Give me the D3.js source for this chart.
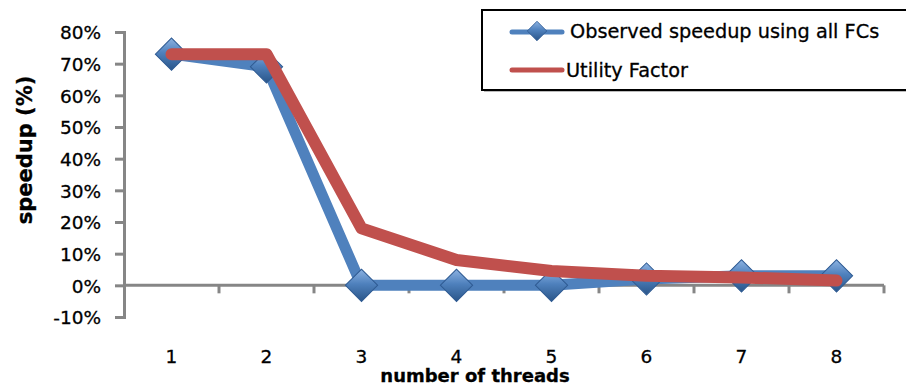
<!DOCTYPE html>
<html>
<head>
<meta charset="utf-8">
<script src="https://cdn.jsdelivr.net/npm/d3@7"></script>
<style>
  html, body { margin: 0; padding: 0; background: #fff; }
  svg { display: block; font-family: "DejaVu Sans", sans-serif; }
  .lbl { fill: #000; stroke: #000; stroke-width: 0.3px; }
</style>
</head>
<body>
<svg id="chart" width="906" height="385"></svg>
<script>
// Thread counts and speedup values (fractions)
const threads = ["1", "2", "3", "4", "5", "6", "7", "8"];
const observedSpeedup = [0.73, 0.69, 0.00, 0.00, 0.00, 0.02, 0.03, 0.03];
const utilityFactor   = [0.73, 0.73, 0.18, 0.08, 0.045, 0.03, 0.025, 0.015];
const yTicks = [-0.1, 0, 0.1, 0.2, 0.3, 0.4, 0.5, 0.6, 0.7, 0.8];
const seriesNames = ["Observed speedup using all FCs", "Utility Factor"];

const svg = d3.select("#chart");
const blue = "#4F81BD", red = "#C0504D", axisGrey = "#868686";

const x = d3.scaleBand().domain(threads).range([124, 884]);
const y = d3.scaleLinear().domain([-0.1, 0.8]).range([317, 32]);
const cx = d => x(d) + x.bandwidth() / 2;
const pct = v => d3.format(".0%")(v).replace("\u2212", "-");

// Gradient for the bevelled diamond markers
const defs = svg.append("defs");
const g = defs.append("linearGradient").attr("id", "diamondFill")
  .attr("x1", "0").attr("y1", "0").attr("x2", "1").attr("y2", "1");
g.append("stop").attr("offset", "0%").attr("stop-color", "#8DB3E2");
g.append("stop").attr("offset", "45%").attr("stop-color", "#4F81BD");
g.append("stop").attr("offset", "100%").attr("stop-color", "#2A5589");

// Y axis
const yAxis = d3.axisLeft(y).tickValues(yTicks).tickFormat(pct).tickSize(9).tickPadding(14);
const ya = svg.append("g").attr("transform", "translate(124,0)").call(yAxis);
ya.select(".domain").attr("stroke", axisGrey).attr("stroke-width", 3);
ya.selectAll(".tick line").attr("stroke", axisGrey).attr("stroke-width", 3);
ya.selectAll(".tick text").attr("class", "lbl").attr("font-size", 18.5)
  .attr("font-family", "DejaVu Sans, sans-serif").attr("dy", "0.36em");

// X axis along the zero line with ticks at category boundaries
const xa = svg.append("g").attr("transform", `translate(0,${y(0)})`);
xa.append("line").attr("x1", 124).attr("x2", 884).attr("stroke", axisGrey).attr("stroke-width", 3);
const bounds = threads.map(t => x(t) + x.bandwidth());
xa.selectAll("line.tk").data(bounds).join("line").attr("class", "tk")
  .attr("x1", d => d).attr("x2", d => d).attr("y1", 0).attr("y2", 8)
  .attr("stroke", axisGrey).attr("stroke-width", 3);
svg.append("g").selectAll("text").data(threads).join("text")
  .attr("class", "lbl")
  .attr("x", d => cx(d)).attr("y", 363).attr("text-anchor", "middle")
  .attr("font-size", 18.5).text(d => d);

// Axis titles
svg.append("text").attr("class", "lbl").attr("x", 475).attr("y", 382).attr("text-anchor", "middle")
  .attr("font-size", 18).attr("font-weight", "bold").text("number of threads");
svg.append("text").attr("class", "lbl").attr("transform", "translate(32,150) rotate(-90)").attr("text-anchor", "middle")
  .attr("font-size", 21).attr("font-weight", "bold").text("speedup (%)");

// Series lines
const line = d3.line().x((d, i) => cx(threads[i])).y(d => y(d));
svg.append("path").datum(observedSpeedup).attr("d", line)
  .attr("fill", "none").attr("stroke", blue).attr("stroke-width", 11)
  .attr("stroke-linejoin", "round");

const diamond = d3.symbol(d3.symbolSquare, 520);
svg.append("g").selectAll("path").data(observedSpeedup).join("path")
  .attr("d", diamond)
  .attr("transform", (d, i) => `translate(${cx(threads[i])},${y(d)}) rotate(45)`)
  .attr("fill", "url(#diamondFill)").attr("stroke", "#2F5B93").attr("stroke-width", 1);

svg.append("path").datum(utilityFactor).attr("d", line)
  .attr("fill", "none").attr("stroke", red).attr("stroke-width", 12)
  .attr("stroke-linejoin", "round").attr("stroke-linecap", "round");

// Legend
const lg = svg.append("g");
lg.append("rect").attr("x", 484).attr("y", 12).attr("width", 430).attr("height", 80)
  .attr("fill", "#777").attr("opacity", 0.5);
lg.append("rect").attr("x", 482).attr("y", 10).attr("width", 430).attr("height", 80)
  .attr("fill", "#fff").attr("stroke", "#000").attr("stroke-width", 2);
lg.append("line").attr("x1", 512).attr("x2", 562).attr("y1", 32).attr("y2", 32)
  .attr("stroke", blue).attr("stroke-width", 5).attr("stroke-linecap", "round");
lg.append("path").attr("d", d3.symbol(d3.symbolSquare, 190))
  .attr("transform", "translate(537,31) rotate(45)")
  .attr("fill", "url(#diamondFill)").attr("stroke", "#2F5B93").attr("stroke-width", 0.8);
lg.append("line").attr("x1", 512).attr("x2", 562).attr("y1", 70).attr("y2", 70)
  .attr("stroke", red).attr("stroke-width", 5).attr("stroke-linecap", "round");
lg.append("text").attr("class", "lbl").attr("x", 570).attr("y", 38).attr("font-size", 19.3).text(seriesNames[0]);
lg.append("text").attr("class", "lbl").attr("x", 566).attr("y", 77).attr("font-size", 19.3).text(seriesNames[1]);
</script>
</body>
</html>
